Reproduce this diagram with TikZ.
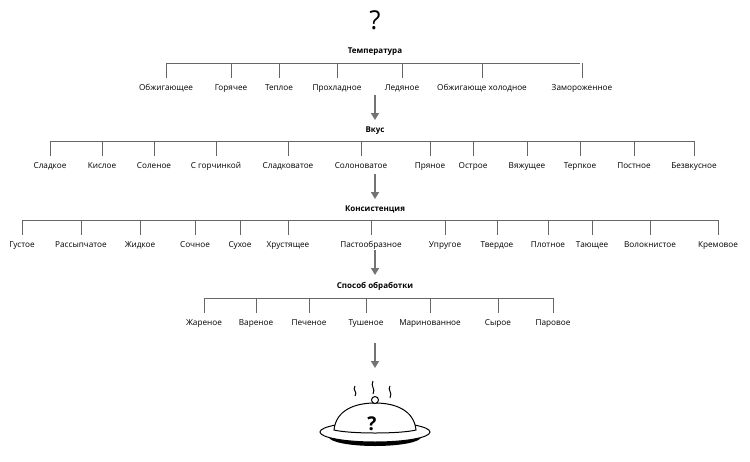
\documentclass[tikz,border=0pt]{standalone}
\usepackage{fontspec}
\setmainfont{Open Sans}
\usetikzlibrary{arrows.meta}
\begin{document}
\begin{tikzpicture}[x=1pt,y=-1pt,
 lab/.style={font=\fontsize{8.2}{9}\selectfont,inner sep=1pt,text height=6pt,text depth=2pt},
 ttl/.style={font=\fontsize{8}{9}\selectfont\bfseries,inner sep=1pt,text height=6pt,text depth=2pt},
 br/.style={draw=black!60,line width=1pt},
 arr/.style={draw=black!55,line width=1.6pt,-{Triangle[length=7pt,width=8pt]}}]
\useasboundingbox (0,0) rectangle (750,461);
\node[font=\fontsize{26}{28}\selectfont] (q) at (375,20) {?};
\newcommand\myrow[3]{%
 \foreach \x/\t [count=\i] in {#2} {
   \node[lab] (#3\i) at (\x,#1+25) {\t};
   \draw[br] (\x,#1) -- (\x,#1+15);
 }}
\node[ttl] (t1) at (375,51) {Температура};
\draw[br] (166,63) -- (580,63);
\myrow{63}{166/Обжигающее,231/Горячее,279/Теплое,337/Прохладное,402/Ледяное,482/Обжигающе холодное,582/Замороженное}{a}
\coordinate (a1s) at (375,95); \coordinate (a1e) at (375,120);
\draw[arr] (a1s) -- (a1e);
\node[ttl] (t2) at (375,130) {Вкус};
\draw[br] (50,141) -- (694,141);
\myrow{141}{50/Сладкое,102/Кислое,154/Соленое,216/С горчинкой,288/Сладковатое,361/Солоноватое,430/Пряное,473/Острое,527/Вяжущее,580/Терпкое,634/Постное,694/Безвкусное}{b}
\coordinate (a2s) at (375,174); \coordinate (a2e) at (375,199);
\draw[arr] (a2s) -- (a2e);
\node[ttl] (t3) at (375,209) {Консистенция};
\draw[br] (22,220) -- (718,220);
\myrow{220}{22/Густое,81/Рассыпчатое,140/Жидкое,195/Сочное,240/Сухое,288/Хрустящее,371/Пастообразное,445/Упругое,497/Твердое,548/Плотное,592/Тающее,650/Волокнистое,718/Кремовое}{c}
\coordinate (a3s) at (375,250); \coordinate (a3e) at (375,275);
\draw[arr] (a3s) -- (a3e);
\node[ttl] (t4) at (375,286) {Способ обработки};
\draw[br] (204,298) -- (553,298);
\myrow{298}{204/Жареное,256/Вареное,309/Печеное,366/Тушеное,430/Маринованное,498/Сырое,553/Паровое}{d}
\coordinate (a4s) at (375,343); \coordinate (a4e) at (375,368);
\draw[arr] (a4s) -- (a4e);
\begin{scope}[line width=1pt]
\fill[black] (375,437) ellipse (46 and 9);
\draw[fill=white] (375,432) ellipse (55 and 10);
\draw[fill=white] (334,430) .. controls (336,410) and (355,403) .. (375,403) .. controls (395,403) and (414,410) .. (416,430) .. controls (400,434) and (350,434) .. (334,430) -- cycle;
\draw[fill=white] (375,400) circle (3.5);
\draw (355,386) .. controls (352,390) and (358,392) .. (355,396);
\draw (373,381) .. controls (370,386) and (376,389) .. (373,394);
\draw (390,386) .. controls (387,390) and (393,392) .. (390,398);
\end{scope}
\node[font=\fontsize{19}{20}\selectfont\rmfamily\bfseries] (q2) at (372,424) {?};
\end{tikzpicture}
\end{document}
